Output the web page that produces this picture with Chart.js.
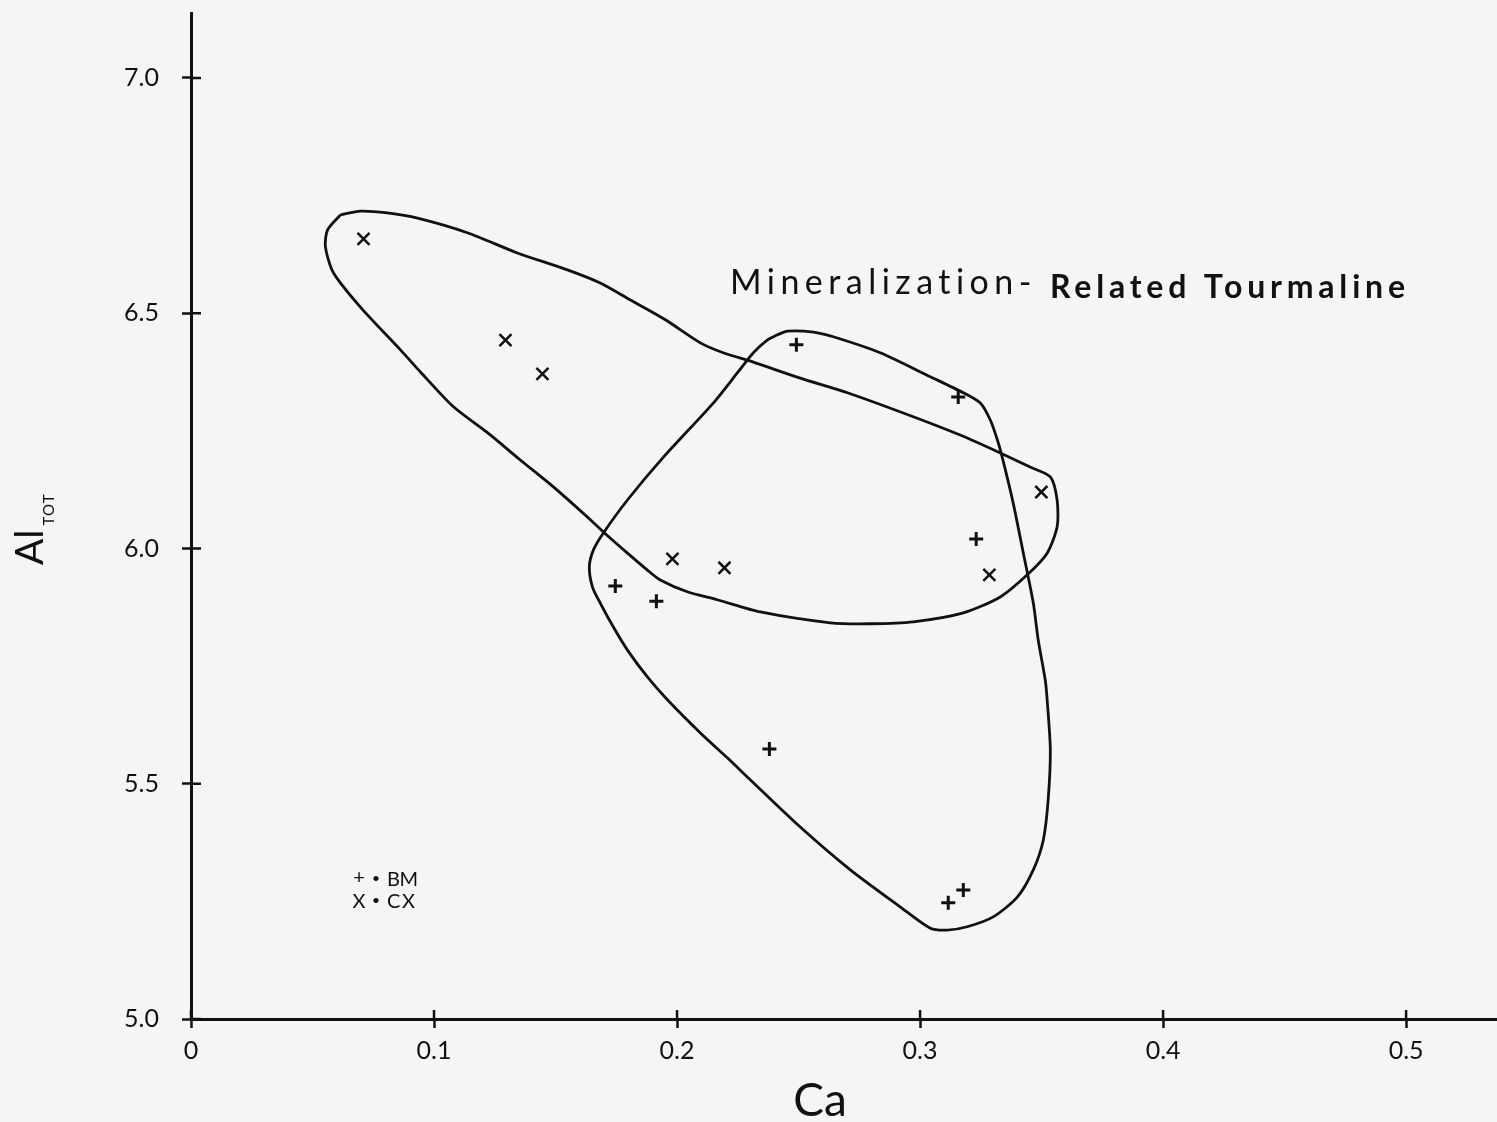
<!DOCTYPE html>
<html>
<head>
<meta charset="utf-8">
<title>Al(TOT) vs Ca - Mineralization-Related Tourmaline</title>
<script src="https://cdn.jsdelivr.net/npm/chart.js@4.4.1/dist/chart.umd.min.js"></script>
<style>
  html, body { margin: 0; padding: 0; background: #f5f5f3; }
  #wrap { width: 1497px; height: 1122px; }
</style>
</head>
<body>
<div id="wrap"><canvas id="chart" width="1497" height="1122"></canvas></div>
<script>
// tick values on both axes
const xTicks = [0, 0.1, 0.2, 0.3, 0.4, 0.5];
const yTicks = [5.0, 5.5, 6.0, 6.5, 7.0];

// BM samples (+)
const bmCa = [0.2491, 0.3157, 0.3231, 0.1746, 0.1915, 0.2380, 0.3116, 0.3178];
const bmAl = [6.433, 6.322, 6.020, 5.920, 5.888, 5.574, 5.247, 5.274];

// CX samples (x)
const cxCa = [0.0710, 0.1294, 0.1446, 0.1981, 0.2195, 0.3499, 0.3285];
const cxAl = [6.658, 6.443, 6.371, 5.978, 5.959, 6.120, 5.944];

// hand drawn envelope round the CX field (long one, upper left)
const envCxCa = [0.0615, 0.0697, 0.0808, 0.0932, 0.1137, 0.1343, 0.1549, 0.1684, 0.1808, 0.1952,
  0.2096, 0.2190, 0.2314, 0.2507, 0.2701, 0.2972, 0.3165, 0.3330, 0.3453, 0.3536,
  0.3564, 0.3564, 0.3523, 0.3441, 0.3330, 0.3178, 0.2972, 0.2795, 0.2631, 0.2343,
  0.2166, 0.2042, 0.1931, 0.1878, 0.1796, 0.1697, 0.1631, 0.1491, 0.1355, 0.1220,
  0.1080, 0.0944, 0.0862, 0.0697, 0.0586, 0.0553, 0.0562, 0.0615];
const envCxAl = [6.709, 6.717, 6.713, 6.702, 6.671, 6.628, 6.592, 6.564, 6.528, 6.486,
  6.437, 6.416, 6.396, 6.362, 6.331, 6.280, 6.241, 6.203, 6.173, 6.152,
  6.103, 6.046, 5.990, 5.944, 5.897, 5.863, 5.844, 5.840, 5.842, 5.865,
  5.891, 5.908, 5.933, 5.954, 5.990, 6.035, 6.067, 6.131, 6.188, 6.246,
  6.301, 6.375, 6.422, 6.513, 6.586, 6.641, 6.677, 6.709];

// envelope round the BM field (lower right)
const envBmCa = [0.2413, 0.2454, 0.2561, 0.2643, 0.2836, 0.3042, 0.3178, 0.3248, 0.3289, 0.3318,
  0.3338, 0.3383, 0.3425, 0.3466, 0.3486, 0.3515, 0.3523, 0.3536, 0.3527, 0.3507,
  0.3466, 0.3400, 0.3301, 0.3194, 0.3112, 0.3042, 0.2919, 0.2713, 0.2507, 0.2302,
  0.2207, 0.2096, 0.1972, 0.1878, 0.1796, 0.1738, 0.1684, 0.1652, 0.1639, 0.1656,
  0.1697, 0.1796, 0.1944, 0.2149, 0.2248, 0.2314, 0.2371, 0.2413];
const envBmAl = [6.454, 6.462, 6.460, 6.450, 6.416, 6.365, 6.331, 6.309, 6.273, 6.231,
  6.194, 6.097, 5.990, 5.884, 5.806, 5.721, 5.678, 5.572, 5.465, 5.380,
  5.317, 5.259, 5.217, 5.196, 5.189, 5.193, 5.238, 5.317, 5.408, 5.508,
  5.555, 5.608, 5.672, 5.727, 5.784, 5.833, 5.884, 5.918, 5.961, 5.997,
  6.033, 6.103, 6.194, 6.309, 6.373, 6.416, 6.443, 6.454];

const ink = '#111';
const font = 'Lato, "Open Sans", sans-serif';

function zip(xs, ys) {
    return xs.map((v, i) => ({ x: v, y: ys[i] }));
}

// draws text so that it fills a given width (the original lettering is spaced out)
function spacedText(ctx, text, x, y, width) {
    ctx.letterSpacing = '0px';
    const w0 = ctx.measureText(text).width;
    ctx.letterSpacing = ((width - w0) / (text.length - 1)) + 'px';
    ctx.fillText(text, x, y);
    ctx.letterSpacing = '0px';
}

// paper, inner half of the ticks, axis titles, legend and the label
const paperDecor = {
    id: 'paperDecor',
    beforeDraw(chart) {
        const { ctx, width, height } = chart;
        ctx.save();
        ctx.fillStyle = '#f5f5f3';
        ctx.fillRect(0, 0, width, height);
        ctx.restore();
    },
    afterDraw(chart) {
        const { ctx, chartArea, scales: { x, y } } = chart;
        ctx.save();
        ctx.strokeStyle = ink;
        ctx.lineWidth = 2.5;
        ctx.beginPath();
        xTicks.forEach(v => {
            const px = x.getPixelForValue(v);
            ctx.moveTo(px, chartArea.bottom);
            ctx.lineTo(px, chartArea.bottom - 9);
        });
        yTicks.forEach(v => {
            const py = y.getPixelForValue(v);
            ctx.moveTo(chartArea.left, py);
            ctx.lineTo(chartArea.left + 10, py);
        });
        ctx.stroke();

        ctx.fillStyle = ink;
        ctx.textBaseline = 'alphabetic';

        // x title
        ctx.font = '46px ' + font;
        ctx.textAlign = 'center';
        ctx.fillText('Ca', 820, 1116);

        // y title, Al with TOT subscript, turned
        ctx.save();
        ctx.translate(43, 565);
        ctx.rotate(-Math.PI / 2);
        ctx.textAlign = 'left';
        ctx.font = '39px ' + font;
        ctx.fillText('Al', 0, 0);
        const wAl = ctx.measureText('Al').width;
        ctx.font = '15px ' + font;
        spacedText(ctx, 'TOT', wAl + 4, 11, 31);
        ctx.restore();

        // legend
        ctx.textAlign = 'center';
        ctx.font = '20px ' + font;
        ctx.fillText('+', 359, 884);
        ctx.fillText('X', 359, 908);
        ctx.font = 'bold 12px ' + font;
        ctx.fillText('•', 376, 882);
        ctx.fillText('•', 376, 904);
        ctx.textAlign = 'left';
        ctx.font = '20px ' + font;
        spacedText(ctx, 'BM', 387, 886, 31);
        spacedText(ctx, 'CX', 387, 908, 28);

        // field label
        ctx.font = '34px ' + font;
        spacedText(ctx, 'Mineralization-', 730, 294, 302);
        ctx.font = 'bold 32px ' + font;
        spacedText(ctx, 'Related Tourmaline', 1050, 298, 355);
        ctx.restore();
    }
};

const ctx = document.getElementById('chart').getContext('2d');

new Chart(ctx, {
    type: 'scatter',
    data: {
        datasets: [
            {
                label: 'BM',
                data: zip(bmCa, bmAl),
                pointStyle: 'cross',
                pointRadius: 7,
                borderColor: ink,
                borderWidth: 3,
            },
            {
                label: 'CX',
                data: zip(cxCa, cxAl),
                pointStyle: 'crossRot',
                pointRadius: 8.5,
                borderColor: ink,
                borderWidth: 2.5,
            },
            {
                label: 'CX field',
                data: zip(envCxCa, envCxAl),
                showLine: true,
                pointRadius: 0,
                borderColor: ink,
                borderWidth: 2.8,
                tension: 0.25,
                fill: false,
            },
            {
                label: 'BM field',
                data: zip(envBmCa, envBmAl),
                showLine: true,
                pointRadius: 0,
                borderColor: ink,
                borderWidth: 2.8,
                tension: 0.25,
                fill: false,
            },
        ],
    },
    options: {
        responsive: false,
        animation: false,
        events: [],
        layout: {
            autoPadding: false,
            padding: { top: 13, right: 0, bottom: 0, left: 0 },
        },
        scales: {
            x: {
                type: 'linear',
                min: 0,
                max: 0.5374,
                afterBuildTicks: s => { s.ticks = xTicks.map(v => ({ value: v })); },
                afterFit: s => {
                    s.height = 103;
                    s.paddingLeft = 0;
                    s.paddingRight = 0;
                },
                grid: {
                    drawOnChartArea: false,
                    tickLength: 9,
                    tickColor: ink,
                    tickWidth: 2.5,
                },
                border: { color: ink, width: 3 },
                ticks: {
                    color: ink,
                    font: { family: font, size: 25 },
                    padding: 8,
                    maxRotation: 0,
                    callback: v => v === 0 ? '0' : v.toFixed(1),
                },
            },
            y: {
                type: 'linear',
                min: 5,
                max: 7.138,
                afterBuildTicks: s => { s.ticks = yTicks.map(v => ({ value: v })); },
                afterFit: s => {
                    s.width = 191;
                    s.paddingTop = 0;
                    s.paddingBottom = 0;
                },
                grid: {
                    drawOnChartArea: false,
                    tickLength: 9,
                    tickColor: ink,
                    tickWidth: 2.5,
                },
                border: { color: ink, width: 3 },
                ticks: {
                    color: ink,
                    font: { family: font, size: 25 },
                    padding: 23,
                    callback: v => v.toFixed(1),
                },
            },
        },
        plugins: {
            legend: { display: false },
            tooltip: { enabled: false },
        },
    },
    plugins: [paperDecor],
});
</script>
</body>
</html>
